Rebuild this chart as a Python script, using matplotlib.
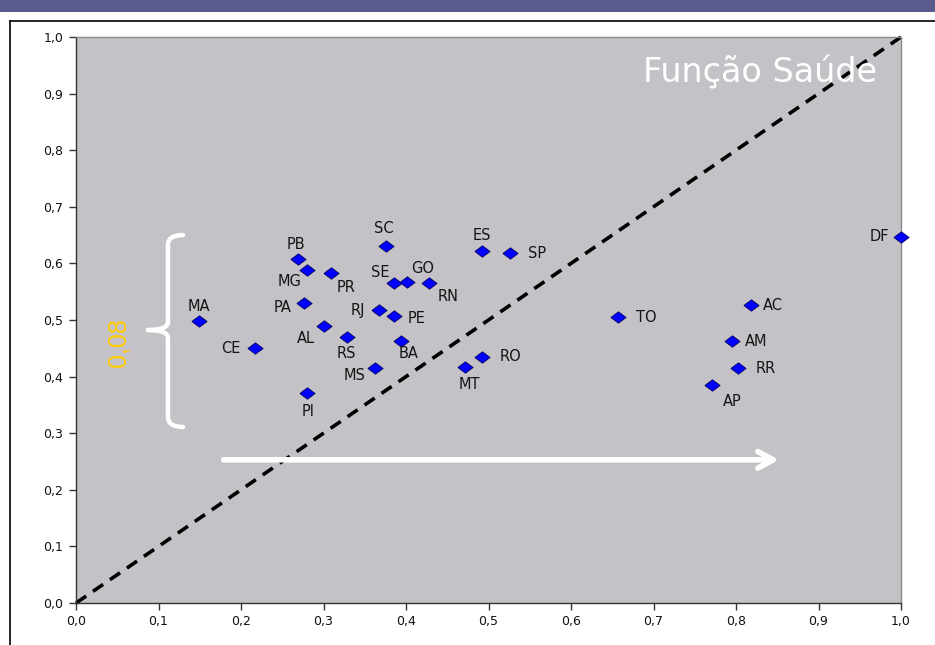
import matplotlib
matplotlib.use("Agg")
import matplotlib.pyplot as plt
from matplotlib.path import Path
from matplotlib.patches import PathPatch, Rectangle
from matplotlib.lines import Line2D

# ---- data ----
states = ["DF", "SC", "PB", "MG", "PR", "ES", "SP", "SE", "GO", "RN", "MA", "PA", "RJ",
          "PE", "AL", "RS", "BA", "CE", "MS", "PI", "MT", "RO", "TO", "AC", "AM", "RR", "AP"]
x_vals = [1.000, 0.376, 0.269, 0.280, 0.309, 0.492, 0.526, 0.385, 0.401, 0.428, 0.149, 0.276, 0.367,
          0.385, 0.301, 0.328, 0.394, 0.217, 0.362, 0.280, 0.472, 0.492, 0.657, 0.818, 0.795, 0.802, 0.771]
y_vals = [0.647, 0.631, 0.608, 0.588, 0.583, 0.622, 0.618, 0.565, 0.567, 0.565, 0.498, 0.530, 0.518,
          0.507, 0.489, 0.470, 0.463, 0.451, 0.415, 0.371, 0.417, 0.435, 0.505, 0.527, 0.463, 0.415, 0.385]
ticks = [0.0, 0.1, 0.2, 0.3, 0.4, 0.5, 0.6, 0.7, 0.8, 0.9, 1.0]
tick_labels = ["0,0", "0,1", "0,2", "0,3", "0,4", "0,5", "0,6", "0,7", "0,8", "0,9", "1,0"]
title_text = "Função Saúde"
gap_text = "0,08"

# label offsets in pixels (dx, dy up-positive)
label_offsets = {
    "DF": (-22, 0), "SC": (-2, 17), "PB": (-2, 14), "MG": (-17, -11), "PR": (15, -14),
    "ES": (0, 15), "SP": (27, 0), "SE": (-13, 11), "GO": (16, 14), "RN": (19, -13),
    "MA": (0, 15), "PA": (-21, -4), "RJ": (-21, -1), "PE": (23, -2), "AL": (-18, -12),
    "RS": (0, -17), "BA": (8, -13), "CE": (-24, -1), "MS": (-20, -7), "PI": (1, -18),
    "MT": (4, -18), "RO": (29, 0), "TO": (28, 0), "AC": (22, -1), "AM": (24, -1),
    "RR": (28, 0), "AP": (20, -16),
}

fig = plt.figure(figsize=(9.35, 6.45), dpi=100)
fig.patch.set_facecolor("white")

# slide header strip and frame
fig.add_artist(Rectangle((0, 1 - 12 / 645), 1, 12 / 645, transform=fig.transFigure,
                         facecolor="#5a5a8c", edgecolor="none"))
fig.add_artist(Line2D([10 / 935, 10 / 935], [0, 1 - 21 / 645], transform=fig.transFigure,
                      color="black", lw=1.2))
fig.add_artist(Line2D([10 / 935, 1], [1 - 21 / 645, 1 - 21 / 645], transform=fig.transFigure,
                      color="black", lw=1.2))

ax = fig.add_axes([76 / 935, 1 - 603 / 645, 825 / 935, 566 / 645])
ax.set_facecolor("#c4c2c6")
ax.set_xlim(0, 1)
ax.set_ylim(0, 1)

for s in ["top", "right"]:
    ax.spines[s].set_color("#8a8a8a")
    ax.spines[s].set_linewidth(1.0)
for s in ["left", "bottom"]:
    ax.spines[s].set_color("#333333")
    ax.spines[s].set_linewidth(1.0)

ax.set_xticks(ticks)
ax.set_xticklabels(tick_labels)
ax.set_yticks(ticks)
ax.set_yticklabels(tick_labels)
ax.tick_params(direction="out", length=5, width=1, color="#333333", labelsize=9,
               labelcolor="#111111", pad=4)

# diagonal
ax.plot([0, 1], [0, 1], color="black", lw=2.6, linestyle=(0, (3.4, 2.3)), zorder=2,
        clip_on=False)

# diamond marker (slightly wide)
diamond = [(-1, 0), (0, 0.75), (1, 0), (0, -0.75), (-1, 0)]
ax.scatter(x_vals, y_vals, marker=diamond, s=120, facecolor="#0000ff", edgecolor="#000060",
           linewidth=0.6, zorder=4, clip_on=False)

for name, xv, yv in zip(states, x_vals, y_vals):
    dx, dy = label_offsets[name]
    ax.annotate(name, (xv, yv), xytext=(dx, dy), textcoords="offset pixels",
                ha="center", va="center", fontsize=10.5, color="#151515", zorder=5)

# title
ax.text(0.829, 0.938, title_text, color="white", fontsize=24, ha="center", va="center",
        fontfamily="DejaVu Sans", zorder=3)

# white arrow
ax.annotate("", xy=(0.852, 0.253), xytext=(0.179, 0.253),
            arrowprops=dict(arrowstyle="->,head_length=1.1,head_width=0.6", color="white",
                            lw=4, shrinkA=0, shrinkB=0), zorder=3)

# brace
xv_, xh_, xt_ = 0.1115, 0.1297, 0.0873
verts = [(xh_, 0.6502), (xv_, 0.6502), (xv_, 0.6325), (xv_, 0.4965), (xv_, 0.4823), (xt_, 0.4823),
         (xt_, 0.4823), (xv_, 0.4823), (xv_, 0.4682), (xv_, 0.3286), (xv_, 0.3110), (xh_, 0.3110)]
codes = [Path.MOVETO, Path.CURVE3, Path.CURVE3, Path.LINETO, Path.CURVE3, Path.CURVE3,
         Path.MOVETO, Path.CURVE3, Path.CURVE3, Path.LINETO, Path.CURVE3, Path.CURVE3]
ax.add_patch(PathPatch(Path(verts, codes), facecolor="none", edgecolor="white", lw=3.2,
                       capstyle="round", joinstyle="round", zorder=3))

ax.text(0.051, 0.461, gap_text, color="#ffcc00", fontsize=18, rotation=90, ha="center",
        va="center", fontfamily="Liberation Sans", zorder=3)

fig.savefig("out.png", dpi=100)
